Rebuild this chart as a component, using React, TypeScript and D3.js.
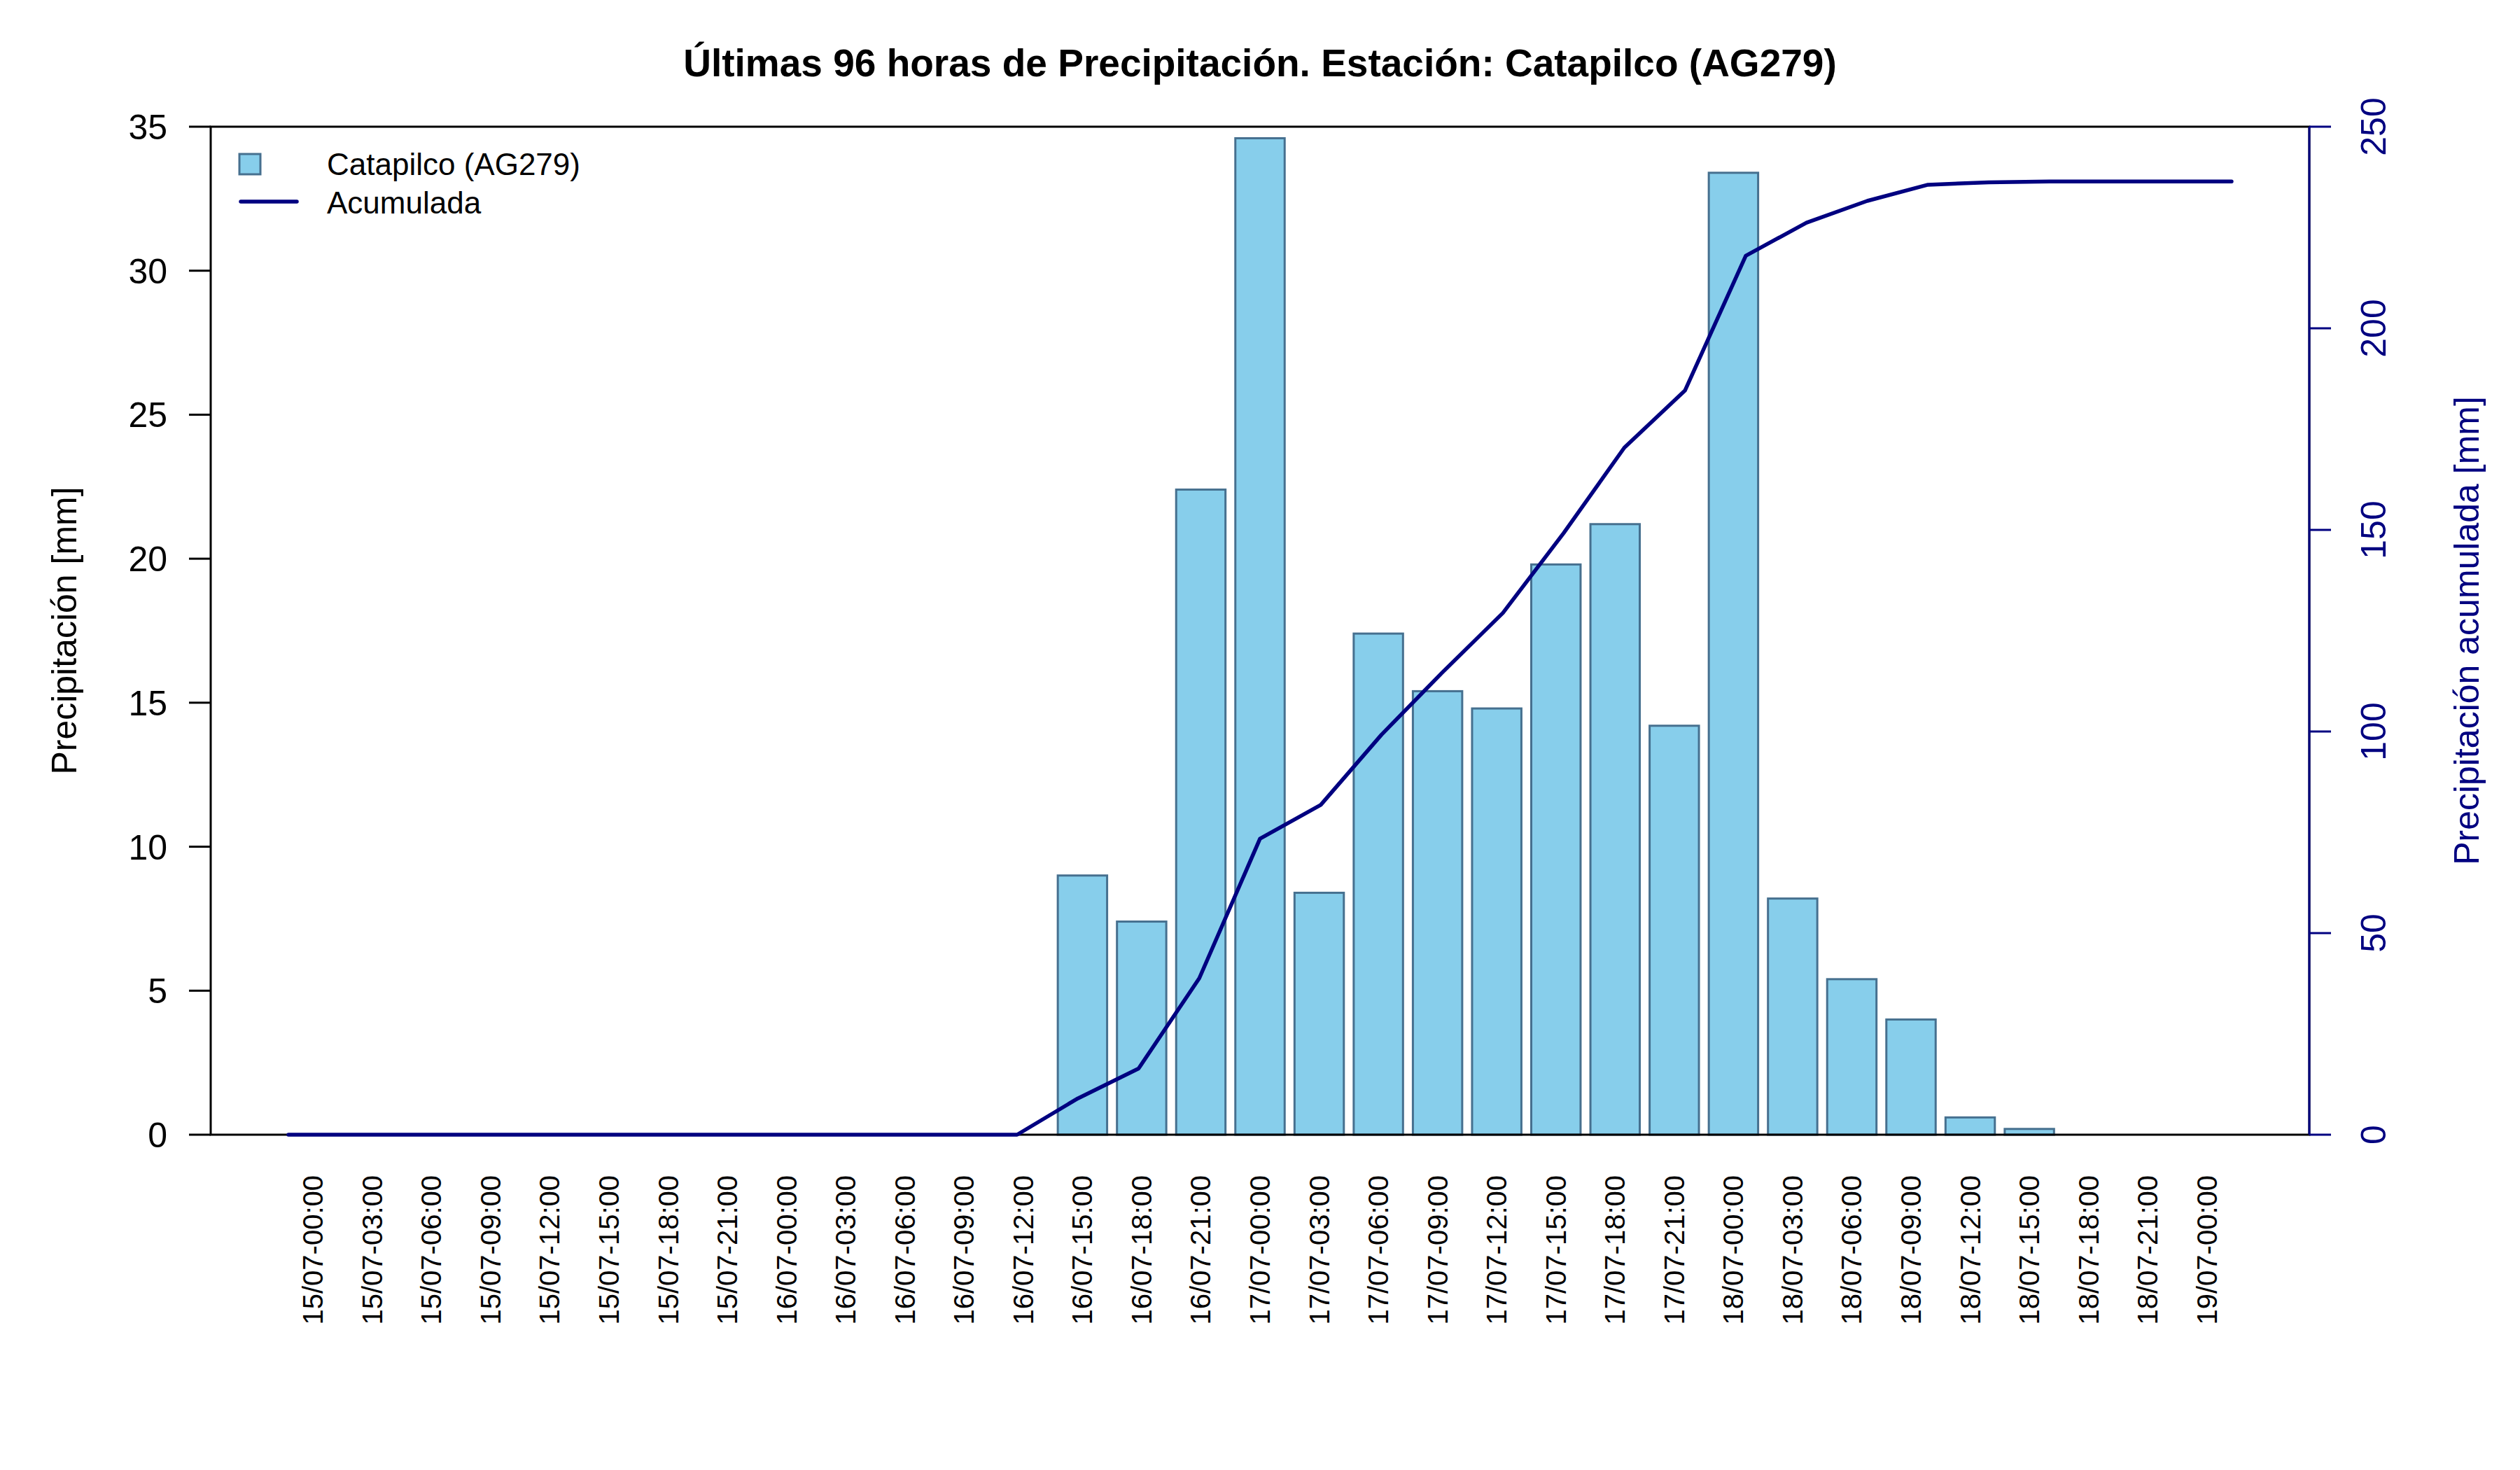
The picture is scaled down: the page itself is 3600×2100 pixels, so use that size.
import * as d3 from "d3";
import { useEffect, useRef } from "react";

// horas (cada 3 h) de las ultimas 96 horas
const labels = [
  "15/07-00:00", "15/07-03:00", "15/07-06:00", "15/07-09:00", "15/07-12:00",
  "15/07-15:00", "15/07-18:00", "15/07-21:00", "16/07-00:00", "16/07-03:00",
  "16/07-06:00", "16/07-09:00", "16/07-12:00", "16/07-15:00", "16/07-18:00",
  "16/07-21:00", "17/07-00:00", "17/07-03:00", "17/07-06:00", "17/07-09:00",
  "17/07-12:00", "17/07-15:00", "17/07-18:00", "17/07-21:00", "18/07-00:00",
  "18/07-03:00", "18/07-06:00", "18/07-09:00", "18/07-12:00", "18/07-15:00",
  "18/07-18:00", "18/07-21:00", "19/07-00:00",
];

// precipitacion [mm] por intervalo
const precip = [
  0, 0, 0, 0, 0, 0, 0, 0, 0, 0, 0, 0, 0,
  9.0, 7.4, 22.4, 34.6, 8.4, 17.4, 15.4, 14.8, 19.8, 21.2, 14.2, 33.4,
  8.2, 5.4, 4.0, 0.6, 0.2, 0, 0, 0,
];

// precipitacion acumulada [mm]
const acumulada = [
  0, 0, 0, 0, 0, 0, 0, 0, 0, 0, 0, 0, 0,
  9.0, 16.4, 38.8, 73.4, 81.8, 99.2, 114.6, 129.4, 149.2, 170.4, 184.6, 218.0,
  226.2, 231.6, 235.6, 236.2, 236.4, 236.4, 236.4, 236.4,
];

const leftTicks = [0, 5, 10, 15, 20, 25, 30, 35];
const rightTicks = [0, 50, 100, 150, 200, 250];

const title = "Últimas 96 horas de Precipitación. Estación: Catapilco (AG279)";
const station = "Catapilco (AG279)";

const FONT = "'Liberation Sans', Arial, Helvetica, sans-serif";
const NAVY = "#000080";
const BAR_FILL = "#87CEEB";
const BAR_EDGE = "#46708F";

const Chart = () => {
  const svgRef = useRef<SVGSVGElement | null>(null);

  useEffect(() => {
    document.body.style.margin = "0";

    const W = 3600;
    const H = 2100;
    const plot = { left: 301, right: 3299, top: 181, bottom: 1621 };

    const svg = d3.select(svgRef.current);
    svg.selectAll("*").remove();
    svg.attr("width", W).attr("height", H).style("display", "block");

    svg.append("rect").attr("width", W).attr("height", H).attr("fill", "white");

    // barplot style x: bars of width 1 with space 0.2, 4% padding
    const n = precip.length;
    const wl = 0.2;
    const wr = 1.2 * n;
    const pad = (wr - wl) * 0.04;
    const xBar = d3.scaleLinear().domain([wl - pad, wr + pad]).range([plot.left, plot.right]);

    // line drawn on its own plot over 1..n
    const lpad = (n - 1) * 0.04;
    const xLine = d3.scaleLinear().domain([1 - lpad, n + lpad]).range([plot.left, plot.right]);

    const yLeft = d3.scaleLinear().domain([0, 35]).range([plot.bottom, plot.top]);
    const yRight = d3.scaleLinear().domain([0, 250]).range([plot.bottom, plot.top]);

    // bars
    const barData = precip.map((v, i) => ({ v, i })).filter((d) => d.v > 0);
    svg
      .append("g")
      .selectAll("rect")
      .data(barData)
      .enter()
      .append("rect")
      .attr("x", (d) => xBar(0.2 + 1.2 * d.i))
      .attr("y", (d) => yLeft(d.v))
      .attr("width", xBar(1) - xBar(0))
      .attr("height", (d) => yLeft(0) - yLeft(d.v))
      .attr("fill", BAR_FILL)
      .attr("stroke", BAR_EDGE)
      .attr("stroke-width", 3);

    // frame
    svg
      .append("rect")
      .attr("x", plot.left)
      .attr("y", plot.top)
      .attr("width", plot.right - plot.left)
      .attr("height", plot.bottom - plot.top)
      .attr("fill", "none")
      .attr("stroke", "black")
      .attr("stroke-width", 3);

    // accumulated line
    const line = d3
      .line<number>()
      .x((_, i) => xLine(i + 1))
      .y((d) => yRight(d));
    svg
      .append("path")
      .datum(acumulada)
      .attr("d", line)
      .attr("fill", "none")
      .attr("stroke", NAVY)
      .attr("stroke-width", 5.5)
      .attr("stroke-linejoin", "round")
      .attr("stroke-linecap", "round");

    // left axis
    const gl = svg.append("g").attr("font-family", FONT).attr("font-size", 50);
    leftTicks.forEach((t) => {
      gl.append("line")
        .attr("x1", plot.left - 31)
        .attr("x2", plot.left)
        .attr("y1", yLeft(t))
        .attr("y2", yLeft(t))
        .attr("stroke", "black")
        .attr("stroke-width", 3);
      gl.append("text")
        .attr("x", plot.left - 62)
        .attr("y", yLeft(t) + 18)
        .attr("text-anchor", "end")
        .text(t);
    });

    // right axis
    const gr = svg.append("g").attr("font-family", FONT).attr("font-size", 50).attr("fill", NAVY);
    gr.append("line")
      .attr("x1", plot.right)
      .attr("x2", plot.right)
      .attr("y1", yRight(0))
      .attr("y2", yRight(250))
      .attr("stroke", NAVY)
      .attr("stroke-width", 3);
    rightTicks.forEach((t) => {
      gr.append("line")
        .attr("x1", plot.right)
        .attr("x2", plot.right + 31)
        .attr("y1", yRight(t))
        .attr("y2", yRight(t))
        .attr("stroke", NAVY)
        .attr("stroke-width", 3);
      gr.append("text")
        .attr("transform", `translate(${plot.right + 109}, ${yRight(t)}) rotate(-90)`)
        .attr("text-anchor", "middle")
        .text(t);
    });

    // x labels
    const gx = svg.append("g").attr("font-family", FONT).attr("font-size", 40);
    labels.forEach((lab, i) => {
      const cx = xBar(0.7 + 1.2 * i);
      gx.append("text")
        .attr("transform", `translate(${cx + 14}, ${plot.bottom + 58}) rotate(-90)`)
        .attr("text-anchor", "end")
        .text(lab);
    });

    // titles
    svg
      .append("text")
      .attr("x", (plot.left + plot.right) / 2)
      .attr("y", 109)
      .attr("text-anchor", "middle")
      .attr("font-family", FONT)
      .attr("font-size", 55)
      .attr("font-weight", "bold")
      .text(title);

    const midY = (plot.top + plot.bottom) / 2;
    svg
      .append("text")
      .attr("transform", `translate(109, ${midY}) rotate(-90)`)
      .attr("text-anchor", "middle")
      .attr("font-family", FONT)
      .attr("font-size", 50)
      .text("Precipitación [mm]");
    svg
      .append("text")
      .attr("transform", `translate(3541, ${midY}) rotate(-90)`)
      .attr("text-anchor", "middle")
      .attr("font-family", FONT)
      .attr("font-size", 50)
      .attr("fill", NAVY)
      .text("Precipitación acumulada [mm]");

    // legend
    const lg = svg.append("g").attr("font-family", FONT).attr("font-size", 44);
    lg.append("rect")
      .attr("x", 342)
      .attr("y", 220)
      .attr("width", 30)
      .attr("height", 29)
      .attr("fill", BAR_FILL)
      .attr("stroke", BAR_EDGE)
      .attr("stroke-width", 3);
    lg.append("text").attr("x", 467).attr("y", 250).text(station);
    lg.append("line")
      .attr("x1", 344)
      .attr("x2", 424)
      .attr("y1", 288)
      .attr("y2", 288)
      .attr("stroke", NAVY)
      .attr("stroke-width", 5.5)
      .attr("stroke-linecap", "round");
    lg.append("text").attr("x", 467).attr("y", 305).text("Acumulada");
  }, []);

  return <svg ref={svgRef} />;
};

export default function App() {
  return <Chart />;
}
